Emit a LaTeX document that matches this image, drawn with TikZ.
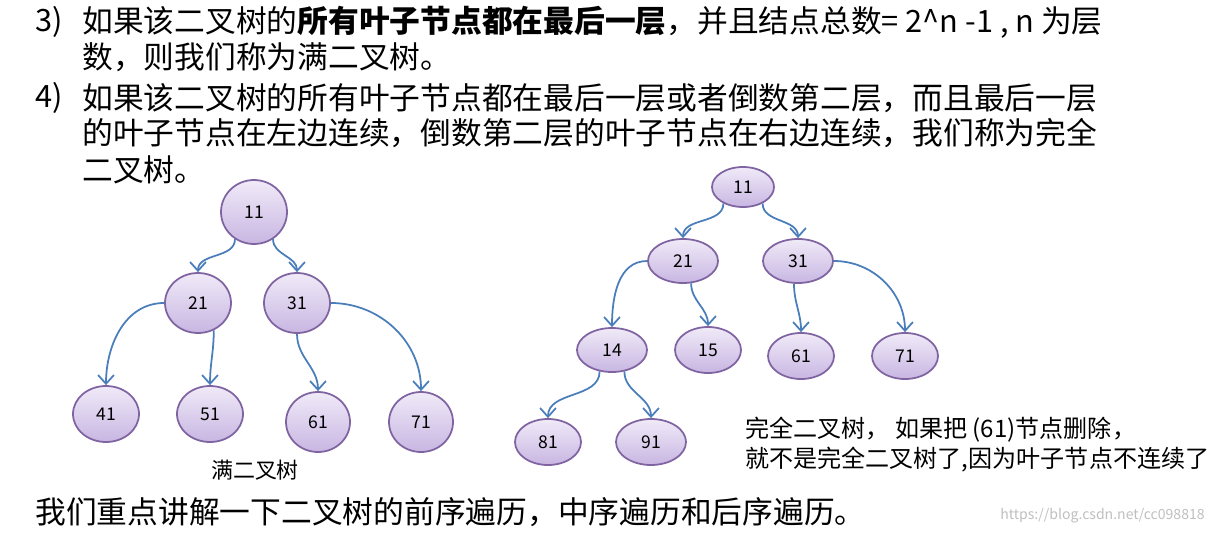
\documentclass[tikz,border=0pt]{standalone}
\usepackage{fontspec}
\setmainfont{Noto Sans CJK SC}
\usetikzlibrary{arrows.meta,shapes.geometric}
\definecolor{edgeblue}{RGB}{74,126,187}
\definecolor{ringpurple}{RGB}{128,100,162}
\definecolor{filltop}{RGB}{240,234,248}
\definecolor{fillbot}{RGB}{200,182,226}
\tikzset{
  tnode/.style={ellipse,draw=ringpurple,line width=1pt,top color=filltop,bottom color=fillbot,
    minimum width=#1*0.02cm,inner sep=0pt,font=\fontsize{10}{12}\selectfont},
  tedge/.style={draw=edgeblue,line width=1pt,-{Straight Barb[length=5pt,width=9pt]}},
  line/.style={anchor=west,inner sep=0pt,font=\fontsize{17.5}{20}\selectfont},
}
\begin{document}
\begin{tikzpicture}[x=0.02cm,y=-0.02cm]
\useasboundingbox (0,0) rectangle (1213,534);
\node[line] (n3) at (35,22) {3)};
\node[line] (t1) at (82,22) {如果该二叉树的\textbf{所有叶子节点都在最后一层}，并且结点总数= 2\^{}n -1 , n 为层};
\node[line] (t2) at (82,57) {数，则我们称为满二叉树。};
\node[line] (n4) at (35,98) {4)};
\node[line] (t3) at (82,98) {如果该二叉树的所有叶子节点都在最后一层或者倒数第二层，而且最后一层};
\node[line] (t4) at (82,133) {的叶子节点在左边连续，倒数第二层的叶子节点在右边连续，我们称为完全};
\node[line] (t5) at (82,170) {二叉树。};
\node[line] (t6) at (35,512) {我们重点讲解一下二叉树的前序遍历，中序遍历和后序遍历。};
% full tree
\node[tnode=66,minimum height=64*0.02cm] (a11) at (254,212) {11};
\node[tnode=66,minimum height=60*0.02cm] (a21) at (198,303) {21};
\node[tnode=66,minimum height=60*0.02cm] (a31) at (297,303) {31};
\node[tnode=66,minimum height=56*0.02cm] (a41) at (106,414) {41};
\node[tnode=66,minimum height=56*0.02cm] (a51) at (210,414) {51};
\node[tnode=64,minimum height=60*0.02cm] (a61) at (318,422) {61};
\node[tnode=64,minimum height=60*0.02cm] (a71) at (421,422) {71};
\draw[tedge] (a11.-125) to[out=-90,in=90] (a21.north);
\draw[tedge] (a11.-55) to[out=-90,in=90] (a31.north);
\draw[tedge] (a21.west) to[out=180,in=90] (a41.north);
\draw[tedge] (a21.-60) to[out=-90,in=90] (a51.north);
\draw[tedge] (a31.south) to[out=-90,in=90] (a61.north);
\draw[tedge] (a31.east) to[out=0,in=90] (a71.north);
\node[font=\fontsize{12.5}{14}\selectfont] (cap1) at (255,470) {满二叉树};
% complete tree
\node[tnode=62,minimum height=40*0.02cm] (b11) at (743,187) {11};
\node[tnode=70,minimum height=44*0.02cm] (b21) at (683,261) {21};
\node[tnode=70,minimum height=44*0.02cm] (b31) at (798,261) {31};
\node[tnode=70,minimum height=44*0.02cm] (b14) at (612,350) {14};
\node[tnode=66,minimum height=46*0.02cm] (b15) at (708,350) {15};
\node[tnode=66,minimum height=46*0.02cm] (b61) at (801,356) {61};
\node[tnode=66,minimum height=46*0.02cm] (b71) at (905,356) {71};
\node[tnode=66,minimum height=46*0.02cm] (b81) at (548,442) {81};
\node[tnode=70,minimum height=46*0.02cm] (b91) at (651,442) {91};
\draw[tedge] (b11.-140) to[out=-90,in=90] (b21.north);
\draw[tedge] (b11.-40) to[out=-90,in=90] (b31.north);
\draw[tedge] (b21.west) to[out=180,in=90] (b14.north);
\draw[tedge] (b21.-70) to[out=-90,in=90] (b15.north);
\draw[tedge] (b31.-100) to[out=-90,in=90] (b61.north);
\draw[tedge] (b31.east) to[out=0,in=90] (b71.north);
\draw[tedge] (b14.-120) to[out=-90,in=90] (b81.north);
\draw[tedge] (b14.-60) to[out=-90,in=90] (b91.north);
\node[anchor=west,inner sep=0pt,font=\fontsize{13.7}{15}\selectfont] (cap2) at (745,430) {完全二叉树， 如果把 (61)节点删除，};
\node[anchor=west,inner sep=0pt,font=\fontsize{13.7}{15}\selectfont] (cap3) at (745,460) {就不是完全二叉树了,因为叶子节点不连续了};
\node[anchor=east,inner sep=0pt,text=black!25,font=\fontsize{8}{10}\selectfont] (wm) at (1205,516) {https://blog.csdn.net/cc098818};
\end{tikzpicture}
\end{document}
